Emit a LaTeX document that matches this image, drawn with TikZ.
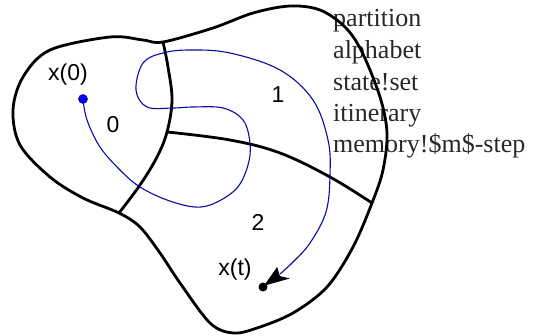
\documentclass[tikz,border=0pt]{standalone}
\usepackage{fontspec}
\setmainfont{Liberation Serif}
\newfontfamily\lsans{Liberation Sans}
\definecolor{trajblue}{RGB}{10,10,165}
\definecolor{dotblue}{RGB}{0,0,255}
\definecolor{idxgray}{RGB}{40,40,40}
\tikzset{
  border/.style={line width=2.8pt, line join=round},
  traj/.style={trajblue, line width=1.1pt},
  lbl/.style={font=\lsans\fontsize{23}{27}\selectfont, inner sep=0pt},
  idx/.style={font=\fontsize{26}{31}\selectfont, text=idxgray, anchor=base west, inner sep=0pt},
  headfill/.style={fill=black, draw=black, line width=0.9pt, line join=miter},
}
\begin{document}
\begin{tikzpicture}[x=1pt,y=-1pt]
\useasboundingbox (0,0) rectangle (534,336);
% index words
\node[idx] (t1) at (333,27) {partition};
\node[idx] (t2) at (333,59) {alphabet};
\node[idx] (t3) at (333,91) {state!set};
\node[idx] (t4) at (333,122) {itinerary};
\node[idx] (t5) at (333,153) {memory!\$m\$-step};
% outer boundary
\draw[border] plot[smooth cycle, tension=0.55] coordinates {
 (13,110) (23,77) (50,50) (110,37) (143,40) (163,42) (213,28) (253,13) (290,6)
 (320,10) (345,27) (362,52) (380,97) (387,133) (383,170) (372,203) (353,247)
 (327,287) (293,313) (257,328) (233,333) (210,323) (180,283) (160,253)
 (140,227) (119,213) (83,198) (50,177) (20,145)};
% dividers
\draw[border] plot[smooth, tension=0.6] coordinates {(163,42) (168,67) (172,100) (167,132) (157,157) (140,185) (119,213)};
\draw[border] plot[smooth, tension=0.6] coordinates {(167,132) (230,140) (280,153) (330,177) (372,203)};
% dots
\node[circle, fill=dotblue, draw=trajblue, line width=0.6pt, minimum size=9pt, inner sep=0pt] (x0) at (83,99) {};
\node[circle, fill=black, minimum size=9pt, inner sep=0pt] (xt) at (263,287) {};
% trajectory
\draw[traj] plot[smooth, tension=0.6] coordinates {
 (83,99) (87,120) (100,147) (120,170) (140,187) (167,200) (195,207) (215,203)
 (237,188) (248,165) (250,143) (243,120) (223,108) (193,107) (173,108) (147,107)
 (136,90) (143,63) (163,53) (190,50) (230,53) (280,70) (313,100) (328,140)
 (330,175) (326,212) (310,243) (293,262) (280,274)};
% arrowhead
\coordinate (tipend) at (265,285);
\filldraw[headfill] (tipend) -- (277,268) -- (279.5,276.5) -- (288,278.5) -- cycle;
% labels
\node[lbl] (l0) at (68,75) {x(0)};
\node[lbl] (lt) at (235,270) {x(t)};
\node[lbl] (r0) at (113,125) {0};
\node[lbl] (r1) at (278,95) {1};
\node[lbl] (r2) at (258,222) {2};
\end{tikzpicture}
\end{document}
